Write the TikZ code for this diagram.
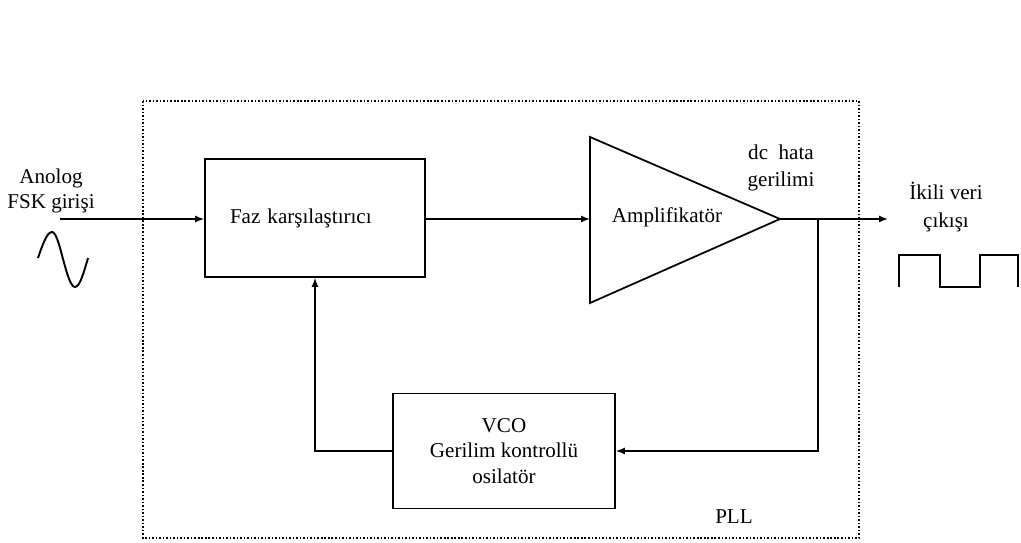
\documentclass[tikz,border=0pt]{standalone}
\usepackage{fontspec}
\setmainfont{Liberation Serif}
\usepackage{tikz}
\usetikzlibrary{arrows.meta,positioning,calc}

\begin{document}
\begin{tikzpicture}[
  x=0.02cm, y=-0.02cm,
  font=\fontsize{12}{14}\selectfont,
  box/.style={rectangle, draw=black, line width=1pt, inner sep=0pt},
  lbl/.style={align=center, inner sep=0pt},
  arr/.style={-{Latex[length=1.8mm, width=1.4mm]}, line width=0.8pt},
  wire/.style={line width=0.8pt},
  plldot/.style={line width=1pt, dash pattern=on 0.9pt off 1.1pt}
]
  \useasboundingbox (0,0) rectangle (1021,543);
  % PLL region
  \draw[plldot] (143,101) rectangle (859,538);
  \node[lbl] (pll) at (734,517) {PLL};
  % blocks
  \node[box, minimum height=2.36cm, text width=3.4cm, inner xsep=0.5cm, align=left] (faz) at (315,218) {Faz karşılaştırıcı};
  \node[box, minimum height=2.3cm, minimum width=4.44cm, align=center, font=\fontsize{12}{14.5}\selectfont] (vco) at (504,451) {VCO\\Gerilim kontrollü\\osilatör};
  \node[lbl] (amp) at (667,217) {Amplifikatör};
  \coordinate (amptop) at (590,137);
  \coordinate (ampbot) at (590,303);
  \coordinate (ampin) at (590,219);
  \coordinate (amptip) at (780,219);
  \draw[line width=1pt] (amptop) -- (amptip) -- (ampbot) -- cycle;
  % labels
  \node[lbl] (giris) at (51,191) {Anolog\\FSK girişi};
  \node[lbl, font=\fontsize{12}{15}\selectfont] (dchata) at (781,168) {dc\ \ hata\\gerilimi};
  \node[lbl, font=\fontsize{12}{16}\selectfont] (cikis) at (946,207) {İkili veri\\çıkışı};
  % connections
  \coordinate (in) at (60,219);
  \coordinate (out) at (888,219);
  \coordinate (br) at (818,219);
  \draw[arr] (in) -- (in -| faz.west);
  \draw[arr] (faz.east |- ampin) -- (ampin);
  \draw[arr] (amptip) -- (out);
  \draw[arr] (br) |- (vco.east);
  \draw[arr] (vco.west) -| (faz.south);
  % signals
  \draw[line width=1.1pt] (38,258) sin (52,232) cos (63,259) sin (75,287) cos (88,258);
  \draw[wire] (899,287) -- (899,255) -- (940,255) -- (940,287) -- (980,287) -- (980,255) -- (1018,255) -- (1018,287);
\end{tikzpicture}
\end{document}
